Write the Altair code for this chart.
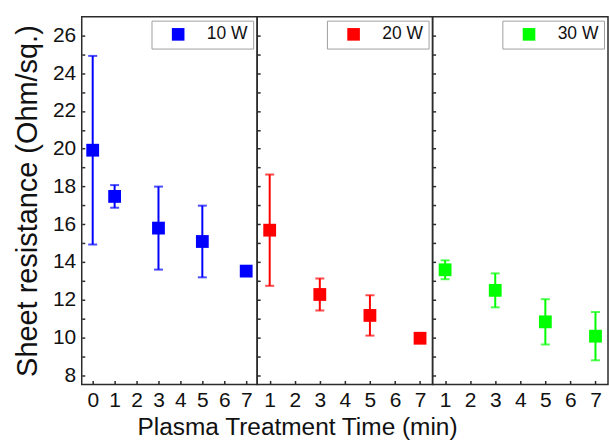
import altair as alt
import pandas as pd

# ---- data ----
times_10 = [0, 1, 3, 5, 7]
res_10 = [19.92, 17.47, 15.79, 15.08, 13.51]
err_10 = [5.0, 0.6, 2.2, 1.9, 0.25]

times_20 = [1, 3, 5, 7]
res_20 = [15.68, 12.27, 11.16, 9.95]
err_20 = [2.95, 0.85, 1.07, 0.15]

times_30 = [1, 3, 5, 7]
res_30 = [13.58, 12.49, 10.82, 10.06]
err_30 = [0.5, 0.9, 1.2, 1.28]

labels = ["10 W", "20 W", "30 W"]
colors = ["#0000ff", "#ff0000", "#00ff00"]
x_ticks_first = [0, 1, 2, 3, 4, 5, 6, 7]
x_ticks_other = [1, 2, 3, 4, 5, 6, 7]
y_ticks = list(range(8, 27))

FONT = "Liberation Sans"
W, H = 176, 369
FRAME = "#2b2b2b"


def panel(times, vals, errs, label, color, xdomain, xticks, first, middle):
    df = pd.DataFrame({
        "t": times,
        "r": vals,
        "lo": [v - e for v, e in zip(vals, errs)],
        "hi": [v + e for v, e in zip(vals, errs)],
        "power": [label] * len(times),
    })
    xscale = alt.Scale(domain=xdomain, nice=False, zero=False)
    yscale = alt.Scale(domain=[7.5, 27], nice=False, zero=False)
    xaxis = alt.Axis(
        values=xticks, format="d", domain=False,
        tickSize=alt.ExprRef(expr="-4"), tickColor=FRAME, tickWidth=1.5,
        labelFont=FONT, labelFontSize=21, labelColor="#111111", labelPadding=9,
        labelFlush=False, labelOverlap=False, grid=False,
        title="Plasma Treatment Time (min)" if middle else "",
        titleFont=FONT, titleFontSize=24.5, titleFontWeight="normal", titleColor="#111111",
        titleX=40, titleAlign="center", titlePadding=5,
    )
    yaxis = alt.Axis(
        values=y_ticks, domain=False,
        tickSize=alt.ExprRef(expr="-3"), tickColor=FRAME, tickWidth=1.5,
        labels=first,
        labelExpr="datum.value % 2 === 0 ? datum.label : ''",
        labelFont=FONT, labelFontSize=21, labelColor="#111111", labelPadding=9,
        grid=False,
        title="Sheet resistance (Ohm/sq.)" if first else "",
        titleFont=FONT, titleFontSize=29, titleFontWeight="normal", titleColor="#111111",
        titlePadding=10,
    )
    X = alt.X("t:Q", scale=xscale, axis=xaxis)
    base = alt.Chart(df)
    bars = base.mark_rule(strokeWidth=2, color=color).encode(
        x=X,
        y=alt.Y("lo:Q", scale=yscale, axis=yaxis),
        y2="hi:Q",
    )
    cap_lo = base.mark_tick(orient="horizontal", size=9, thickness=2, color=color).encode(
        x=X,
        y=alt.Y("lo:Q", scale=yscale, axis=yaxis),
    )
    cap_hi = base.mark_tick(orient="horizontal", size=9, thickness=2, color=color).encode(
        x=X,
        y=alt.Y("hi:Q", scale=yscale, axis=yaxis),
    )
    pts = base.mark_square(size=165, opacity=1, filled=True).encode(
        x=X,
        y=alt.Y("r:Q", scale=yscale, axis=yaxis),
        color=alt.Color(
            "power:N",
            scale=alt.Scale(domain=[label], range=[color]),
            legend=alt.Legend(
                title=None, orient="top-right", offset=4, padding=5,
                strokeColor="#a0a0a0", fillColor="white",
                symbolType="square", symbolSize=160, symbolStrokeWidth=0,
                symbolOffset=13, labelOffset=20,
                labelFont=FONT, labelFontSize=17.5, labelColor="#111111",
            ),
        ),
    )
    return alt.layer(bars, cap_lo, cap_hi, pts).properties(width=W, height=H)


p1 = panel(times_10, res_10, err_10, labels[0], colors[0], [-0.5, 7.5], x_ticks_first, True, False)
p2 = panel(times_20, res_20, err_20, labels[1], colors[1], [0.5, 7.5], x_ticks_other, False, True)
p3 = panel(times_30, res_30, err_30, labels[2], colors[2], [0.5, 7.5], x_ticks_other, False, False)

chart = (
    alt.hconcat(p1, p2, p3, spacing=0, bounds="flush")
    .resolve_scale(x="independent", color="independent")
    .resolve_legend(color="independent")
    .properties(padding={"left": 12, "top": 15, "right": 0, "bottom": 0}, background="white")
    .configure_view(stroke=FRAME, strokeWidth=1.5)
)

chart.save("out.html", embed_options={"renderer": "svg", "actions": False})
